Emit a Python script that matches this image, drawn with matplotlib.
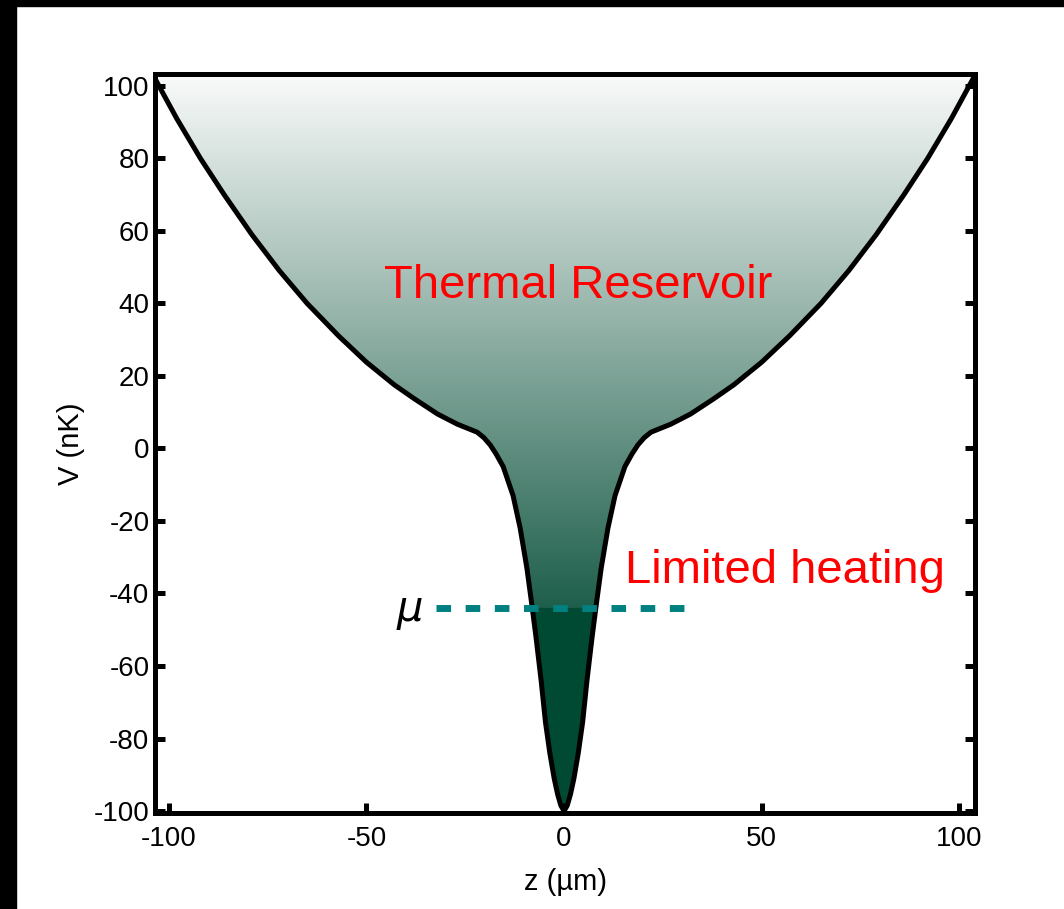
import matplotlib.pyplot as plt
import numpy as np
from matplotlib.patches import Polygon, Rectangle

plt.rcParams['font.family'] = ['Liberation Sans', 'DejaVu Sans']
plt.rcParams['axes.unicode_minus'] = False

# potential V(z), right half (z >= 0); the trap is symmetric
z_half = [0, 0.8, 1.6, 2.5, 3.6, 4.7, 5.8, 7.1, 8.1, 9.4, 11.1, 12.9, 15.4, 17.2,
          18.7, 20.3, 22, 24.5, 27, 32, 38, 43, 50, 57, 65, 72, 79, 86, 92, 98, 104]
v_half = [-100, -98.5, -95.5, -91, -84, -75.5, -64, -52, -43.5, -33, -22, -13, -5,
          -1.5, 1, 3, 4.5, 5.6, 6.7, 9.5, 13.8, 17.6, 23.8, 31, 40, 49, 59, 70, 80,
          91, 103]

mu_level = -44
mu_span = [-32.3, 32.3]

x_ticks = [-100, -50, 0, 50, 100]
y_ticks = [-100, -80, -60, -40, -20, 0, 20, 40, 60, 80, 100]

XLIM = (-103.5, 104)
YLIM = (-100.55, 103.3)

z = np.concatenate([-np.array(z_half[:0:-1]), z_half])
v = np.concatenate([v_half[:0:-1], v_half])

fig = plt.figure(figsize=(10.64, 9.09), dpi=100)
ax = fig.add_axes([0.1457, 0.1056, 0.7707, 0.813])

# vertical gradient: light at the top, dark green at mu, solid below mu
top_col = np.array([250, 251, 250]) / 255
mid_col = np.array([30, 95, 75]) / 255
low_col = np.array([0, 74, 51]) / 255
n = 900
rows = np.linspace(-101, 104, n)
img = np.zeros((n, 1, 3))
for i, val in enumerate(rows):
    if val >= mu_level:
        t = min(max((YLIM[1] - val) / (YLIM[1] - mu_level), 0), 1)
        img[i, 0] = top_col + t * (mid_col - top_col)
    else:
        img[i, 0] = low_col
im = ax.imshow(img, extent=[-105, 105, -101, 104], origin='lower', aspect='auto',
               interpolation='bilinear', zorder=1)
clip = Polygon(np.column_stack([np.r_[z, 105, -105], np.r_[v, 120, 120]]),
               closed=True, transform=ax.transData, facecolor='none', edgecolor='none')
im.set_clip_path(clip)

ax.plot(z, v, color='black', lw=3.6, solid_joinstyle='round', zorder=3)
ax.plot(mu_span, [mu_level, mu_level], color='#008080', lw=5, dashes=(2.1, 2.1),
        dash_capstyle='butt', zorder=4)

ax.text(3.5, 41.4, 'Thermal Reservoir', color='red', fontsize=34,
        ha='center', va='baseline')
ax.text(15.4, -37.2, 'Limited heating', color='red', fontsize=34,
        ha='left', va='baseline')
ax.text(-35.7, -47.7, r'$\mu$', color='black', fontsize=30,
        ha='right', va='baseline')

ax.set_xlim(*XLIM)
ax.set_ylim(*YLIM)
ax.set_xticks(x_ticks)
ax.set_yticks(y_ticks)
ax.tick_params(direction='in', length=7, width=3.6, top=False, right=True,
               labelsize=20, color='black')
ax.tick_params(axis='x', pad=9)
ax.tick_params(axis='y', pad=4)
for s in ax.spines.values():
    s.set_linewidth(3.6)
    s.set_zorder(5)

ax.set_xlabel('z (\u00b5m)', fontsize=21, labelpad=12)
ax.set_ylabel('V (nK)', fontsize=21, labelpad=6)

# black frame strips at the top and left edges of the picture
fig.add_artist(Rectangle((0, 1 - 6 / 909), 1, 6 / 909, transform=fig.transFigure,
                         color='black', zorder=10))
fig.add_artist(Rectangle((0, 0), 16 / 1064, 1, transform=fig.transFigure,
                         color='black', zorder=10))

fig.savefig('out.png', dpi=100)
